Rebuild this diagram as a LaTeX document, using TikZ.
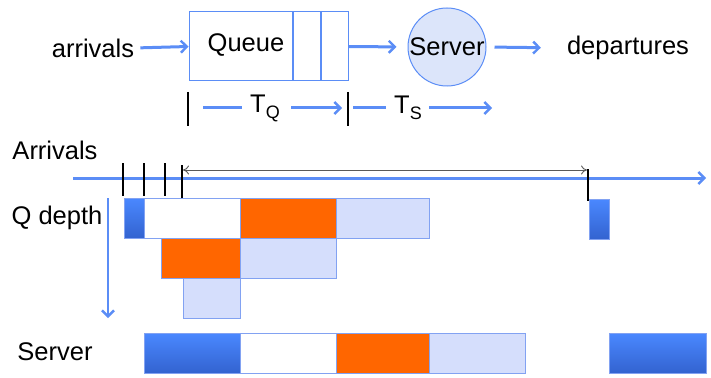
\documentclass[tikz,border=0pt]{standalone}
\usepackage{fontspec}
\setmainfont{Liberation Sans}
\usetikzlibrary{arrows.meta}

\definecolor{qblue}{RGB}{91,141,246}
\definecolor{qedge}{RGB}{130,162,242}
\definecolor{qlight}{RGB}{213,222,252}
\definecolor{qcirc}{RGB}{220,229,250}
\definecolor{qorange}{RGB}{255,102,0}
\definecolor{qtop}{RGB}{74,136,255}
\definecolor{qbot}{RGB}{51,99,208}

\tikzset{
  flow/.style={draw=qblue,line width=3pt,-{Straight Barb[length=6pt,width=12pt,line width=2.4pt]}},
  plain/.style={draw=qblue,line width=3pt},
  tick/.style={draw=black,line width=2.8pt},
  lbl/.style={font=\fontsize{25.5}{30}\selectfont,inner sep=0pt},
  dblk/.style={draw=qedge,line width=0.8pt,top color=qtop,bottom color=qbot},
  wblk/.style={draw=qedge,line width=0.8pt,fill=white},
  oblk/.style={draw=qedge,line width=0.8pt,fill=qorange},
  lblk/.style={draw=qedge,line width=0.8pt,fill=qlight}
}
\newcommand{\tsub}[2]{#1\raisebox{-0.45ex}{\fontsize{18}{18}\selectfont #2}}

\begin{document}
\begin{tikzpicture}[x=1pt,y=-1pt]
 \useasboundingbox (0,0) rectangle (711,377);

 \node[lbl] (arr) at (93,48) {arrivals};
 \node[draw=qblue,line width=1pt,minimum width=159pt,minimum height=69pt,inner sep=0pt] (queue) at (268.5,46.5) {};
 \node[lbl] (qtext) at (246,45) {Queue};
 \draw[plain,line width=2.4pt] (293,12) -- (293,81);
 \draw[plain,line width=2.4pt] (321,12) -- (321,81);
 \node[lbl,circle,draw=qblue,line width=1pt,fill=qcirc,minimum size=78pt] (srv) at (447,47) {Server};
 \node[lbl] (dep) at (628,48) {departures};

 \draw[flow,shorten <=6pt] (arr.east) -- (queue.west);
 \draw[flow,shorten >=11pt] (queue.east) -- (srv.west);
 \draw[flow,shorten <=8pt,shorten >=26pt] (srv.east) -- (dep.west);

 \draw[tick] (188,92) -- (188,126);
 \draw[tick] (348,92) -- (348,126);
 \node[lbl] (tq) at (265,108) {\tsub{T}{Q}};
 \node[lbl] (ts) at (408,108) {\tsub{T}{S}};
 \draw[plain] (203,108) -- (242,108);
 \draw[flow] (291,108) -- (342,108);
 \draw[plain] (353,108) -- (386,108);
 \draw[flow] (429,108) -- (492,108);

 \node[lbl] (arrivals) at (55,150) {Arrivals};
 \node[lbl] (qdepth) at (57,218) {Q depth};
 \node[lbl] (server) at (55,352) {Server};

 \coordinate (t0) at (73,178);
 \coordinate (t1) at (706,178);
 \draw[flow] (t0) -- (t1);
 \foreach \x in {123,144,165}
   \draw[tick] (\x,163) -- (\x,196);
 \draw[tick] (182,165) -- (182,200);
 \draw[tick] (588,169) -- (588,201);
 \draw[gray!70!black,line width=0.9pt,{To[length=6pt,width=9pt]}-{To[length=6pt,width=9pt]}] (183,170) -- (587,170);

 \draw[flow,line width=2.2pt] (108,198) -- (108,318);

 \draw[dblk] (124,198) rectangle (144,238);
 \draw[wblk] (144,198) rectangle (240,238);
 \draw[oblk] (240,198) rectangle (336,238);
 \draw[lblk] (336,198) rectangle (429,238);
 \draw[oblk] (161,238) rectangle (240,278);
 \draw[lblk] (240,238) rectangle (336,278);
 \draw[lblk] (183,278) rectangle (240,318);
 \draw[dblk] (589,199) rectangle (609,239);

 \draw[dblk] (144,333) rectangle (240,373);
 \draw[wblk] (240,333) rectangle (336,373);
 \draw[oblk] (336,333) rectangle (429,373);
 \draw[lblk] (429,333) rectangle (525,373);
 \draw[dblk] (609,333) rectangle (706,373);
\end{tikzpicture}
\end{document}
